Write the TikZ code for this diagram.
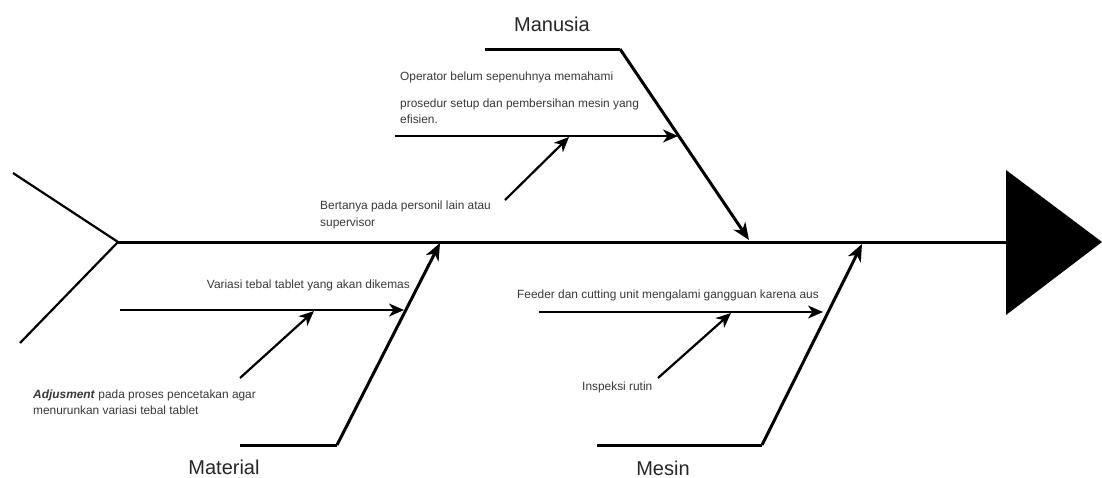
\documentclass[tikz,border=0pt]{standalone}
\usepackage{fontspec}
\setmainfont{Liberation Sans}
\usetikzlibrary{arrows.meta}
\begin{document}
\begin{tikzpicture}[x=1pt,y=-1pt,
  bone/.style={line width=3pt},
  rib/.style={line width=2.2pt},
  bonearrow/.style={line width=3pt,-{Stealth[length=17pt,width=14pt,inset=5pt]}},
  ribarrow/.style={line width=2.2pt,-{Stealth[length=15pt,width=13pt,inset=4.5pt]}},
  note/.style={font=\fontsize{11.9}{14}\selectfont,text=black!78,inner sep=0pt,anchor=base west},
  title/.style={font=\fontsize{20}{24}\selectfont,text=black!85,inner sep=0pt,anchor=base}]
\useasboundingbox (0,0) rectangle (1102,477);
% spine and tail
\coordinate (tailtop) at (13,173);
\coordinate (tailbot) at (20,343);
\coordinate (spinestart) at (118,242);
\coordinate (spineend) at (1006,242);
\draw[line width=2.2pt] (tailtop) -- (spinestart) -- (tailbot);
\draw[bone] (spinestart) -- (spineend);
\fill (1006,170) -- (1102,242) -- (1006,315) -- cycle;
\coordinate (head) at (1006,242);
% Manusia
\coordinate (m0) at (485,49);
\coordinate (m1) at (620,49);
\coordinate (m2) at (749,240);
\draw[bone] (m0) -- (m1);
\draw[bonearrow] (m1) -- (m2);
\node[title] (manusia) at (552,31) {Manusia};
\coordinate (ms0) at (395,136);
\coordinate (ms1) at (678,136);
\draw[ribarrow] (ms0) -- (ms1);
\coordinate (mss0) at (505,200);
\coordinate (mss1) at (569,137);
\draw[ribarrow] (mss0) -- (mss1);
\node[note] (t1) at (400,80) {Operator belum sepenuhnya memahami};
\node[note] (t2) at (400,107) {prosedur setup dan pembersihan mesin yang};
\node[note] (t3) at (400,123) {efisien.};
\node[note] (t4) at (320,209) {Bertanya pada personil lain atau};
\node[note] (t5) at (320,226) {supervisor};
% Material
\coordinate (a0) at (240,445);
\coordinate (a1) at (337,445);
\coordinate (a2) at (440,243);
\draw[bone] (a0) -- (a1);
\draw[bonearrow] (a1) -- (a2);
\node[title] (material) at (224,474) {Material};
\coordinate (as0) at (120,310);
\coordinate (as1) at (404,310);
\draw[ribarrow] (as0) -- (as1);
\coordinate (ass0) at (240,378);
\coordinate (ass1) at (314,311);
\draw[ribarrow] (ass0) -- (ass1);
\node[note,anchor=base east] (t6) at (410,288) {Variasi tebal tablet yang akan dikemas};
\node[note] (t7) at (33,398) {\textit{\textbf{Adjusment}} pada proses pencetakan agar};
\node[note] (t8) at (33,414) {menurunkan variasi tebal tablet};
% Mesin
\coordinate (e0) at (597,445);
\coordinate (e1) at (762,445);
\coordinate (e2) at (862,244);
\draw[bone] (e0) -- (e1);
\draw[bonearrow] (e1) -- (e2);
\node[title] (mesin) at (663,475) {Mesin};
\coordinate (es0) at (539,312);
\coordinate (es1) at (823,312);
\draw[ribarrow] (es0) -- (es1);
\coordinate (ess0) at (658,378);
\coordinate (ess1) at (731,313);
\draw[ribarrow] (ess0) -- (ess1);
\node[note] (t9) at (517,298) {Feeder dan cutting unit mengalami gangguan karena aus};
\node[note] (t10) at (582,390) {Inspeksi rutin};
\end{tikzpicture}
\end{document}
